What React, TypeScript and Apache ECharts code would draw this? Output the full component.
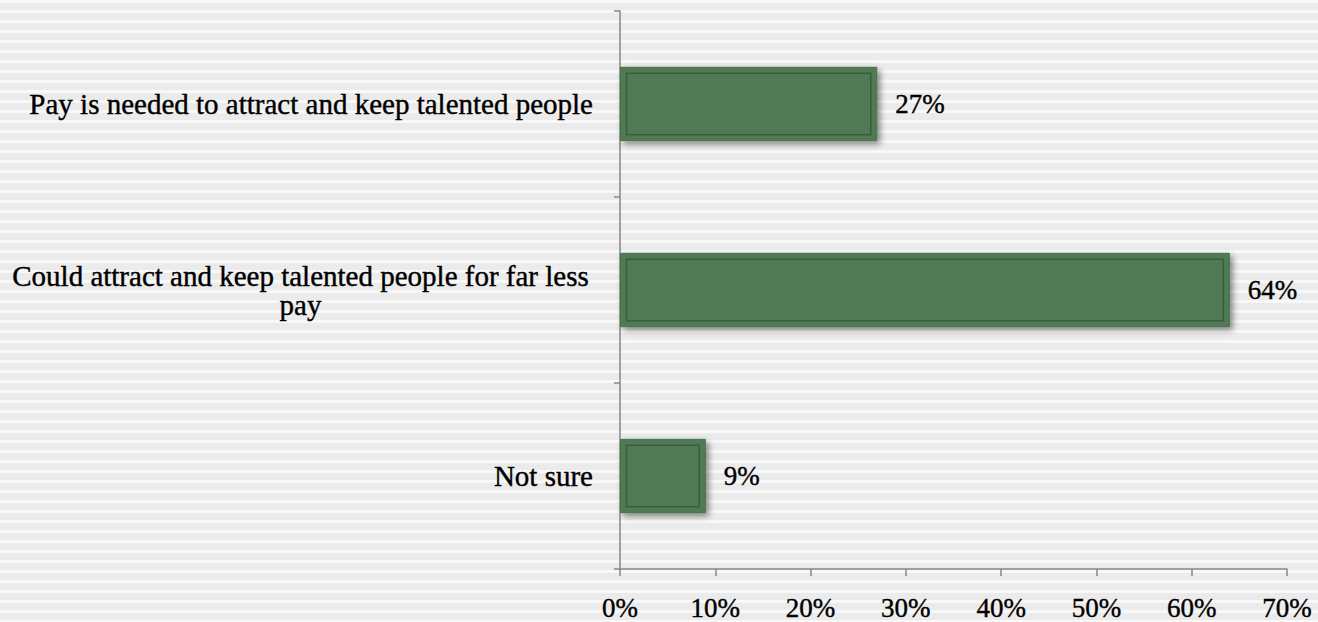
import React, { useEffect, useRef } from "react";
import * as echarts from "echarts";

const categories: string[] = [
  "Pay is needed to attract and keep talented people",
  "Could attract and keep talented people for far less pay",
  "Not sure",
];
const values: number[] = [27, 64, 9];
const xMin = 0;
const xMax = 70;
const xInterval = 10;

const FONT = "'Liberation Serif', 'Times New Roman', serif";
const HEAVY = { textBorderColor: "#000", textBorderWidth: 0.4 };

function wrapLabel(name: string): string {
  const maxChars = 52;
  if (name.length <= maxChars) return name;
  const words = name.split(" ");
  const lines: string[] = [];
  let cur = "";
  for (const w of words) {
    const t = cur ? cur + " " + w : w;
    if (t.length > maxChars && cur) {
      lines.push(cur);
      cur = w;
    } else cur = t;
  }
  if (cur) lines.push(cur);
  return lines.map((l) => `{c|${l}}`).join("\n");
}

export default function App() {
  const ref = useRef<HTMLDivElement>(null);
  useEffect(() => {
    if (!ref.current) return;
    const chart = echarts.init(ref.current, undefined, { renderer: "svg" });
    chart.setOption({
      animation: false,
      backgroundColor: "transparent",
      grid: {
        left: 620,
        right: 31,
        top: 11,
        bottom: 53,
        containLabel: false,
        outerBoundsMode: "none",
      },
      xAxis: {
        type: "value",
        min: xMin,
        max: xMax,
        interval: xInterval,
        splitLine: { show: false },
        axisLine: { show: true, lineStyle: { color: "#878787", width: 1.5 } },
        axisTick: { show: true, length: 7, lineStyle: { color: "#878787", width: 1.5 } },
        axisLabel: {
          formatter: "{value}%",
          margin: 25,
          fontFamily: FONT,
          fontSize: 27,
          color: "#000",
          ...HEAVY,
        },
      },
      yAxis: {
        type: "category",
        inverse: true,
        data: categories,
        axisLine: { show: true, lineStyle: { color: "#878787", width: 1.5 } },
        axisTick: { show: true, length: 6, lineStyle: { color: "#878787", width: 1.5 } },
        axisLabel: {
          margin: 27,
          fontFamily: FONT,
          fontSize: 29,
          color: "#000",
          lineHeight: 29,
          ...HEAVY,
          formatter: (v: string) => wrapLabel(v),
          rich: {
            c: {
              width: 585,
              align: "center",
              fontFamily: FONT,
              fontSize: 29,
              color: "#000",
              lineHeight: 29,
              ...HEAVY,
            },
          },
        },
      },
      series: [
        {
          type: "bar",
          data: values,
          barWidth: "40%",
          itemStyle: {
            color: "#4f7a52",
            borderColor: "#48724c",
            borderWidth: 1,
            shadowBlur: 6,
            shadowOffsetX: 3,
            shadowOffsetY: 3,
            shadowColor: "rgba(0,0,0,0.45)",
          },
          label: {
            show: true,
            position: "right",
            distance: 18,
            formatter: "{c}%",
            fontFamily: FONT,
            fontSize: 27,
            color: "#000",
            ...HEAVY,
          },
          z: 2,
        },
        {
          type: "custom",
          data: values.map((v, i) => [v, i]),
          encode: { x: 0, y: 1 },
          z: 3,
          silent: true,
          renderItem: (params: any, api: any) => {
            const v = api.value(0);
            const idx = api.value(1);
            const s = api.coord([0, idx]);
            const e = api.coord([v, idx]);
            const h = api.size([0, 1])[1] * 0.4;
            const inset = 6.5;
            return {
              type: "rect",
              shape: {
                x: s[0] + inset,
                y: s[1] - h / 2 + inset,
                width: e[0] - s[0] - 2 * inset,
                height: h - 2 * inset,
              },
              style: { fill: "none", stroke: "#3b5d3e", lineWidth: 1.5 },
            };
          },
        },
      ],
    });
    return () => chart.dispose();
  }, []);
  return (
    <div
      ref={ref}
      style={{
        position: "fixed",
        left: 0,
        top: 0,
        width: 1318,
        height: 622,
        background:
          "repeating-linear-gradient(to bottom, #f8f8f8 0px, #f8f8f8 3px, #ebebeb 3px, #ebebeb 10px)",
      }}
    />
  );
}
